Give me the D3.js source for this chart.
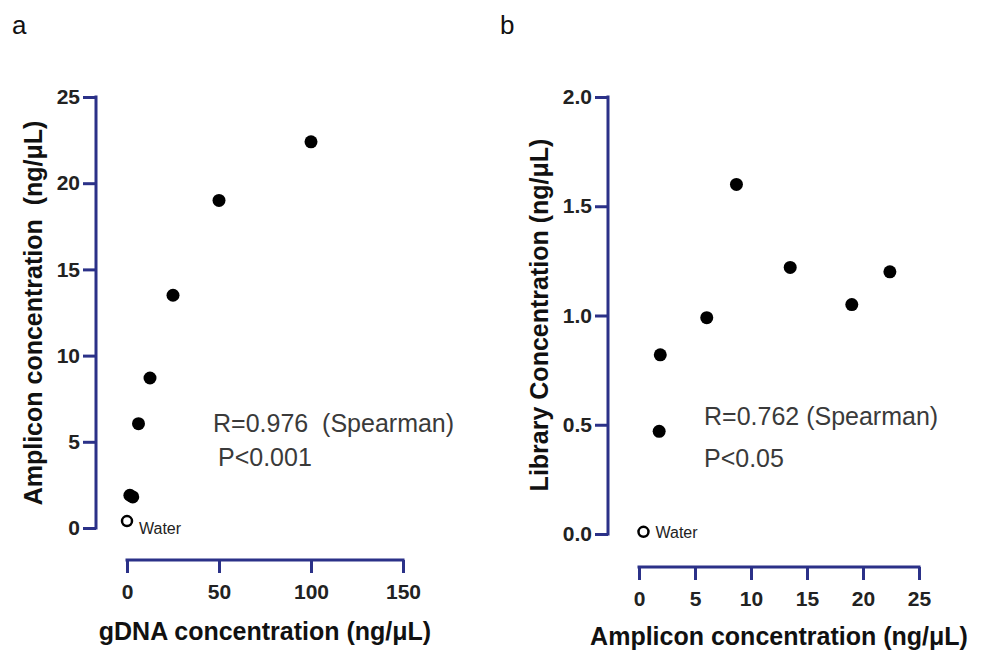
<!DOCTYPE html>
<html>
<head>
  <meta charset="UTF-8">
  <script src="https://d3js.org/d3.v7.min.js"></script>
</head>
<body style="margin:0;background:#fff">
  <svg id="chartSVG"></svg>
</body>
<style>
  text { font-family: Arial, 'Liberation Sans', sans-serif; white-space: pre; }
  .tick text { font-weight: bold; fill: #222; }
  .axis-title { font-weight: bold; font-size: 25px; fill: #111; }
  .note { font-size: 25px; fill: #3a3a3a; }
  .water { font-size: 16px; fill: #222; }
  .panel-letter { font-size: 26px; fill: #111; }
</style>
<script type="text/javascript">
  // gDNA input (ng/uL) and amplicon yield (ng/uL) for each sample
  const gdnaConc = [100, 50, 25, 12.5, 6.25, 3.125, 1.5625];
  const ampliconConc = [22.4, 19.0, 13.5, 8.7, 6.05, 1.8, 1.9];
  // library concentration (ng/uL) for the same samples
  const libraryConc = [1.20, 1.05, 1.22, 1.60, 0.99, 0.47, 0.82];
  // water control
  const waterGdna = 0;
  const waterAmplicon = 0.4;
  const waterLibrary = 0.01;

  const ticksA_x = [0, 50, 100, 150];
  const ticksA_y = [0, 5, 10, 15, 20, 25];
  const ticksB_x = [0, 5, 10, 15, 20, 25];
  const ticksB_y = [0, 0.5, 1.0, 1.5, 2.0];

  const notesA = ['R=0.976  (Spearman)', 'P<0.001'];
  const notesB = ['R=0.762 (Spearman)', 'P<0.05'];

  const axisColor = '#2b3188';

  const svg = d3.select('#chartSVG')
    .attr('width', 984)
    .attr('height', 650);

  function styleAxis(g) {
    g.select('.domain').remove();
    g.selectAll('.tick line')
      .attr('stroke', axisColor)
      .attr('stroke-width', 3);
  }

  // draws one panel; cfg holds layout only
  function drawPanel(cfg) {
    const x = d3.scaleLinear().domain(cfg.xDomain).range(cfg.xRange);
    const y = d3.scaleLinear().domain(cfg.yDomain).range(cfg.yRange);

    // y axis
    const gy = svg.append('g')
      .attr('transform', `translate(${cfg.yAxisX},0)`)
      .call(d3.axisLeft(y).tickValues(cfg.yTicks).tickSize(13).tickPadding(3)
        .tickFormat(cfg.yFormat))
      .call(styleAxis);
    gy.selectAll('.tick text').style('font-size', '21px');
    gy.append('line')
      .attr('x1', 0).attr('x2', 0)
      .attr('y1', y(cfg.yDomain[1]) - 1.5).attr('y2', y(cfg.yDomain[0]) + 1.5)
      .attr('stroke', axisColor).attr('stroke-width', 3);

    // x axis (offset below the plot, Prism style)
    const gx = svg.append('g')
      .attr('transform', `translate(0,${cfg.xAxisY})`)
      .call(d3.axisBottom(x).tickValues(cfg.xTicks).tickSize(13).tickPadding(11))
      .call(styleAxis);
    gx.selectAll('.tick text').style('font-size', '21px');
    gx.append('line')
      .attr('x1', x(cfg.xDomain[0]) - 1.5).attr('x2', x(cfg.xDomain[1]) + 1.5)
      .attr('y1', 0).attr('y2', 0)
      .attr('stroke', axisColor).attr('stroke-width', 3);

    // titles
    svg.append('text')
      .attr('class', 'axis-title')
      .attr('text-anchor', 'middle')
      .attr('x', (cfg.xRange[0] + cfg.xRange[1]) / 2 + cfg.xTitleShift)
      .attr('y', cfg.xTitleY)
      .text(cfg.xTitle);

    svg.append('text')
      .attr('class', 'axis-title')
      .attr('text-anchor', 'middle')
      .attr('transform', `translate(${cfg.yTitleX},${cfg.yTitleY}) rotate(-90)`)
      .text(cfg.yTitle);

    // samples
    svg.append('g')
      .selectAll('circle')
      .data(d3.zip(cfg.xs, cfg.ys))
      .join('circle')
      .attr('cx', d => x(d[0]))
      .attr('cy', d => y(d[1]))
      .attr('r', 6.5)
      .attr('fill', '#000');

    // water control
    svg.append('circle')
      .attr('cx', x(cfg.water[0]))
      .attr('cy', y(cfg.water[1]))
      .attr('r', 5)
      .attr('fill', '#fff')
      .attr('stroke', '#000')
      .attr('stroke-width', 2.5);
    svg.append('text')
      .attr('class', 'water')
      .attr('x', x(cfg.water[0]) + cfg.waterDx)
      .attr('y', y(cfg.water[1]) + cfg.waterDy)
      .text('Water');

    // correlation notes
    svg.append('g')
      .selectAll('text')
      .data(cfg.notes)
      .join('text')
      .attr('class', 'note')
      .attr('x', (d, i) => cfg.noteX[i])
      .attr('y', (d, i) => cfg.noteY[i])
      .text(d => d);

    svg.append('text')
      .attr('class', 'panel-letter')
      .attr('x', cfg.letterX)
      .attr('y', 34)
      .text(cfg.letter);
  }

  drawPanel({
    letter: 'a', letterX: 12,
    xDomain: [0, 150], xRange: [127, 403], xTicks: ticksA_x, xAxisY: 560,
    yDomain: [0, 25], yRange: [528, 97], yTicks: ticksA_y, yAxisX: 96,
    yFormat: d3.format('d'),
    xTitle: 'gDNA concentration (ng/\u03bcL)', xTitleY: 640, xTitleShift: 0,
    yTitle: 'Amplicon concentration  (ng/\u03bcL)', yTitleX: 42, yTitleY: 313,
    xs: gdnaConc, ys: ampliconConc,
    water: [waterGdna, waterAmplicon], waterDx: 12, waterDy: 13,
    notes: notesA, noteX: [213, 218], noteY: [432, 466]
  });

  drawPanel({
    letter: 'b', letterX: 500,
    xDomain: [0, 25], xRange: [639, 919], xTicks: ticksB_x, xAxisY: 567,
    yDomain: [0, 2], yRange: [534, 97], yTicks: ticksB_y, yAxisX: 608,
    yFormat: d3.format('.1f'),
    xTitle: 'Amplicon concentration (ng/\u03bcL)', xTitleY: 645, xTitleShift: 0,
    yTitle: 'Library Concentration (ng/\u03bcL)', yTitleX: 548, yTitleY: 315,
    xs: ampliconConc, ys: libraryConc,
    water: [waterAmplicon, waterLibrary], waterDx: 12, waterDy: 6,
    notes: notesB, noteX: [704, 704], noteY: [425, 467]
  });
</script>
</html>
